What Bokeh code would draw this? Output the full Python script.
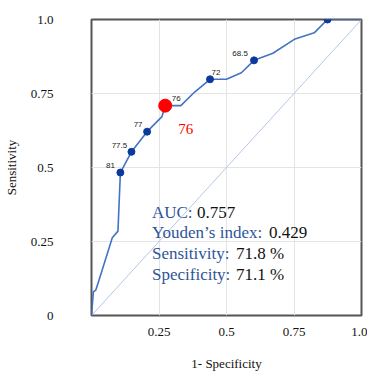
from bokeh.plotting import figure
from bokeh.models import ColumnDataSource, Range1d, FixedTicker
from bokeh.core.properties import value
from bokeh.embed import file_html
from bokeh.resources import INLINE

# ROC curve (1 - specificity, sensitivity)
fpr = [0.0, 0.007, 0.016, 0.030, 0.077, 0.098, 0.107, 0.148, 0.206, 0.261, 0.273,
       0.331, 0.382, 0.439, 0.500, 0.555, 0.602, 0.672, 0.751, 0.825, 0.874, 1.0]
tpr = [0.0, 0.080, 0.086, 0.126, 0.263, 0.285, 0.483, 0.553, 0.621, 0.672, 0.709,
       0.709, 0.755, 0.798, 0.798, 0.820, 0.862, 0.886, 0.933, 0.955, 1.0, 1.0]

# labelled cut-off points
cut_labels = ["81", "77.5", "77", "76", "72", "68.5", ""]
cut_fpr = [0.107, 0.148, 0.206, 0.273, 0.439, 0.602, 0.874]
cut_tpr = [0.483, 0.553, 0.621, 0.709, 0.798, 0.862, 1.0]

# optimal cut-off (Youden)
best_label = "76"
best_fpr = 0.273
best_tpr = 0.709

# statistics
stat_names = ["AUC:", "Youden\u2019s index:", "Sensitivity:", "Specificity:"]
stat_values = ["0.757", "0.429", "71.8 %", "71.1 %"]

# reference diagonal
diag_x = [0.0, 1.0]
diag_y = [0.0, 1.0]

# axis ticks
x_ticks = [0.25, 0.5, 0.75, 1.0]
x_tick_labels = ["0.25", "0.5", "0.75", "1.0"]
y_ticks = [0.0, 0.25, 0.5, 0.75, 1.0]
y_tick_labels = ["0", "0.25", "0.5", "0.75", "1.0"]

SERIF = "Liberation Serif"
SANS = "Liberation Sans"

p = figure(width=367, height=373, output_backend="svg", toolbar_location=None,
           x_range=Range1d(0, 1), y_range=Range1d(0, 1),
           min_border_left=89, min_border_right=6, min_border_top=19,
           min_border_bottom=52)
p.background_fill_color = "white"
p.border_fill_color = "white"
p.outline_line_color = "#555555"
p.outline_line_width = 2

for ax in (p.xaxis[0], p.yaxis[0]):
    ax.axis_line_color = None
    ax.major_tick_line_color = None
    ax.minor_tick_line_color = None
    ax.major_label_text_font = SERIF
    ax.major_label_text_font_size = "13px"
    ax.major_label_text_color = "#111111"
    ax.axis_label_text_font = SERIF
    ax.axis_label_text_font_size = "13px"
    ax.axis_label_text_font_style = "normal"
    ax.axis_label_text_color = "#111111"

p.xaxis.ticker = FixedTicker(ticks=x_ticks)
p.xaxis.major_label_overrides = dict(zip(x_ticks, x_tick_labels))
p.yaxis.ticker = FixedTicker(ticks=y_ticks)
p.yaxis.major_label_overrides = dict(zip(y_ticks, y_tick_labels))
p.xaxis.axis_label = "1- Specificity"
p.yaxis.axis_label = "Sensitivity"
p.xaxis.major_label_standoff = 6
p.xaxis.axis_label_standoff = 17
p.yaxis.major_label_standoff = 32
p.yaxis.axis_label_standoff = 9

p.xgrid.ticker = FixedTicker(ticks=[0.25, 0.5, 0.75])
p.ygrid.ticker = FixedTicker(ticks=[0.25, 0.5, 0.75])
p.grid.grid_line_color = "#e4e4e4"
p.grid.grid_line_width = 1

# diagonal
p.line(diag_x, diag_y, line_color="#b4c7e7", line_width=1)

# ROC curve
p.line(fpr, tpr, line_color="#4472c4", line_width=1.6)

cut_src = ColumnDataSource(dict(x=cut_fpr, y=cut_tpr, label=cut_labels,
                                dx=[-10, -12, -9, 11, 6, -14, 0],
                                dy=[-7, -6, -7, -7, -7, -7, 0]))
p.scatter("x", "y", source=cut_src, size=7, fill_color="#0b3a9c",
          line_color="#0b3a9c")
p.text("x", "y", text="label", source=cut_src, x_offset="dx", y_offset="dy",
       text_font=value(SANS), text_font_size="8px", text_color="#222222",
       text_align="center", text_baseline="middle")

# optimal point
p.scatter([best_fpr], [best_tpr], size=13, fill_color="#ff0000",
          line_color="#ff0000")
p.text([best_fpr], [best_tpr], text=[best_label], x_offset=13, y_offset=23,
       text_font=value(SERIF), text_font_size="15px", text_color="#ff0000",
       text_align="left", text_baseline="alphabetic")

# statistics block
stat_src = ColumnDataSource(dict(
    x=[0.224] * 4, y=[0.348, 0.279, 0.209, 0.139],
    name=stat_names, val=stat_values, vdx=[45, 117, 84, 84]))
p.text("x", "y", text="name", source=stat_src,
       text_font=value(SERIF), text_font_size="17px", text_color="#2f5597",
       text_align="left", text_baseline="alphabetic")
p.text("x", "y", text="val", source=stat_src, x_offset="vdx",
       text_font=value(SERIF), text_font_size="17px", text_color="#111111",
       text_align="left", text_baseline="alphabetic")

open("out.html", "w").write(file_html(p, INLINE))
